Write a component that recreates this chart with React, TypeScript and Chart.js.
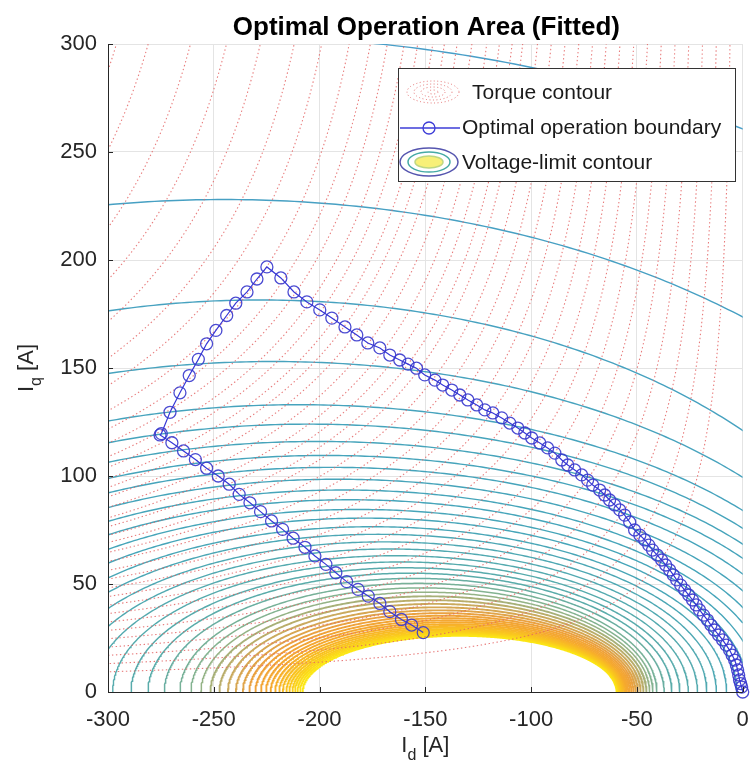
import React, { useEffect, useRef } from "react";
import { Chart, registerables } from "chart.js";

Chart.register(...registerables);

// ---------- text ----------
const TITLE = "Optimal Operation Area (Fitted)";
const LEGEND_LABELS = ["Torque contour", "Optimal operation boundary", "Voltage-limit contour"];

// ---------- axes ----------
const X_TICKS = [-300, -250, -200, -150, -100, -50, 0];
const Y_TICKS = [0, 50, 100, 150, 200, 250, 300];

// ---------- optimal operation boundary (Id, Iq) ----------
const boundaryId = [
  -151.0, -156.5, -161.3, -166.8, -171.5, -177.0, -181.8, -187.2, -192.3, -197.0,
  -202.2, -206.9, -212.5, -217.5, -222.7, -227.9, -232.9, -238.0, -242.7, -247.9,
  -253.4, -258.7, -264.3, -269.8, -275.4, -274.8,
  -270.7, -266.0, -261.6, -257.3, -253.4, -249.0, -243.9, -239.6, -234.3, -229.6, -224.9,
  -218.3, -212.1, -206.0, -199.9, -194.2, -188.0, -182.4, -177.2, -171.5, -166.8,
  -162.1, -158.2, -154.2, -150.3, -145.5, -141.8, -137.5, -133.7, -129.9, -125.7,
  -121.9, -118.1, -113.9, -110.1, -106.3, -103.0, -99.7, -95.9, -92.2, -88.8,
  -85.5, -82.7, -79.4, -76.1, -73.3, -70.9, -67.6, -65.2, -62.9, -60.5,
  -58.1, -55.8, -53.4, -51.1, -48.6, -46.3, -44.4, -42.6, -40.4, -38.3,
  -36.4, -34.5, -32.8, -31.2, -29.3, -27.4, -25.5, -23.7, -22.0, -20.4,
  -18.5, -16.6, -15.0, -13.3, -11.4, -9.5, -7.8, -6.2, -5.0, -3.8,
  -3.0, -2.4, -1.9, -1.5, -1.0, -0.5, 0,
];
const boundaryIq = [
  27.5, 31.0, 33.6, 37.2, 41.0, 44.4, 47.5, 51.1, 55.2, 59.1,
  63.0, 67.0, 71.2, 75.3, 79.2, 83.5, 87.6, 91.5, 96.2, 100.0,
  103.6, 107.6, 111.6, 115.4, 119.0, 119.6,
  129.5, 138.5, 146.5, 154.0, 161.2, 167.4, 174.3, 180.0, 185.2, 191.2, 196.8,
  191.7, 185.2, 180.6, 176.9, 173.1, 169.0, 165.3, 161.6, 159.3, 156.0,
  153.7, 151.8, 149.9, 146.8, 144.4, 142.1, 139.8, 137.5, 135.2, 132.9,
  130.6, 129.2, 126.9, 124.5, 122.2, 119.9, 117.6, 115.3, 113.0, 110.6,
  107.4, 105.1, 102.8, 100.5, 98.1, 95.8, 93.5, 91.2, 88.9, 86.6,
  84.3, 81.9, 78.6, 75.0, 72.6, 70.4, 68.0, 65.7, 63.4, 61.1,
  58.8, 56.5, 54.2, 51.9, 49.5, 47.2, 44.9, 42.6, 40.3, 38.0,
  35.6, 33.3, 31.0, 28.7, 26.4, 24.1, 21.7, 19.4, 17.1, 14.8,
  12.5, 10.2, 7.9, 5.6, 3.9, 2.3, 0,
];

// ---------- voltage-limit contours ----------
// Peak height (Iq at the top) of every contour line, outermost first.
const voltageLevelPeaks = [
  304, 228, 181.5, 153, 133, 124, 116, 109.5, 104, 98.5, 93.5, 89, 84.5, 80.5,
  76.5, 73, 69.5, 66.2, 63.1, 60.2, 57.5, 55, 52.6, 50.3, 48.2, 46.2, 44.3, 42.5,
  40.8, 39.2, 37.8, 36.5, 35.3, 34.2, 33.2, 32.3, 31.4, 30.6, 29.9, 29.2, 28.6,
  28, 27.5, 27, 26.5, 26,
];
// Shape: peak height -> centre Id and half width along Id.
const shapeAnchorPeak = [26, 36, 50, 64, 80, 92, 111, 133, 153, 181.5, 228, 304];
const shapeAnchorCentre = [-133.75, -142, -153, -165, -178, -188, -198, -210, -222, -228, -245, -250];
const shapeAnchorHalfWidth = [74.25, 90, 112, 145, 180, 205, 242, 271, 292, 306, 378, 486];
// Colour of a contour by its peak height
const colourStopPeak = [26, 28.5, 32, 36, 41, 47, 55, 80, 304];
const colourStops = [
  [252, 232, 20], [250, 200, 30], [246, 170, 45], [238, 160, 60], [200, 170, 95],
  [140, 180, 140], [90, 172, 170], [70, 165, 185], [72, 158, 200],
];

// ---------- torque contours ----------
// Id where each torque contour meets the top edge (Iq = 300 A).
const torqueTopCrossingId = [
  -296, -281, -261, -244, -228, -212, -199, -186, -176, -168, -160, -153.6, -146.5,
  -141, -135, -128, -121, -115, -109, -104, -97, -90.5, -84, -77.5, -71, -64.5,
  -58, -51.5, -45, -38.5, -32, -25.5, -19, -12.5, -6,
];
const TORQUE_IQ_KNEE = 200;
const TORQUE_ID_OFFSET = 10;

const FONT = '"Liberation Sans", Arial, Helvetica, sans-serif';

function interp(xs: number[], ys: number[], x: number) {
  if (x <= xs[0]) return ys[0];
  for (let i = 1; i < xs.length; i++) {
    if (x <= xs[i]) {
      const t = (x - xs[i - 1]) / (xs[i] - xs[i - 1]);
      return ys[i - 1] + t * (ys[i] - ys[i - 1]);
    }
  }
  return ys[ys.length - 1];
}

function colourFor(peak: number) {
  const c = [0, 1, 2].map((k) =>
    Math.round(interp(colourStopPeak, colourStops.map((s) => s[k]), peak))
  );
  return `rgb(${c[0]},${c[1]},${c[2]})`;
}

function voltageContour(peak: number) {
  const xc = interp(shapeAnchorPeak, shapeAnchorCentre, peak);
  const a = interp(shapeAnchorPeak, shapeAnchorHalfWidth, peak);
  const pts: { x: number; y: number }[] = [];
  for (let i = 0; i <= 360; i++) {
    const t = (Math.PI * i) / 360;
    pts.push({ x: xc - a * Math.cos(t), y: peak * Math.sin(t) });
  }
  return pts;
}

// torque ~ (offset - Id) * F(Iq) with a saturating F; one contour per top crossing
function torqueContour(topId: number) {
  const S = TORQUE_IQ_KNEE;
  const U0 = TORQUE_ID_OFFSET;
  const F = (q: number) => S * Math.tanh(q / S);
  const Finv = (f: number) => S * Math.atanh(f / S);
  const ut = -topId;
  const level = (ut + U0) * F(300);
  const uMax = 306;
  const pts: { x: number; y: number }[] = [];
  for (let i = 0; i <= 240; i++) {
    const u = ut + ((uMax - ut) * i) / 240;
    const f = level / (u + U0);
    if (f >= S) continue;
    pts.push({ x: -u, y: Finv(f) });
  }
  const qLeft = Finv(level / (uMax + U0));
  for (let i = 0; i <= 240; i++) {
    const q = qLeft + ((306 - qLeft) * i) / 240;
    const u = level / F(q) - U0;
    if (u < -2) continue;
    pts.push({ x: -u, y: q });
  }
  pts.sort((p, q) => p.x - q.x);
  return pts;
}

const overlayPlugin = {
  id: "overlay",
  afterDatasetsDraw(chart: any) {
    const { ctx, chartArea: ca, scales } = chart;
    ctx.save();
    ctx.strokeStyle = "#262626";
    ctx.lineWidth = 1;
    ctx.beginPath();
    ctx.moveTo(ca.left + 0.5, ca.top);
    ctx.lineTo(ca.left + 0.5, ca.bottom + 0.5);
    ctx.lineTo(ca.right, ca.bottom + 0.5);
    ctx.stroke();
    for (const v of X_TICKS) {
      const px = Math.round(scales.x.getPixelForValue(v)) + 0.5;
      ctx.beginPath();
      ctx.moveTo(px, ca.bottom);
      ctx.lineTo(px, ca.bottom - 5);
      ctx.stroke();
    }
    for (const v of Y_TICKS) {
      const py = Math.round(scales.y.getPixelForValue(v)) + 0.5;
      ctx.beginPath();
      ctx.moveTo(ca.left, py);
      ctx.lineTo(ca.left + 5, py);
      ctx.stroke();
    }
    ctx.restore();
  },
  afterDraw(chart: any) {
    const { ctx, chartArea: ca } = chart;
    const cx = (ca.left + ca.right) / 2;
    ctx.save();
    // title
    ctx.fillStyle = "#000";
    ctx.font = `bold 26px ${FONT}`;
    ctx.textAlign = "center";
    ctx.textBaseline = "alphabetic";
    ctx.fillText(TITLE, cx + 1, 35);

    // axis titles with subscripts
    const drawSubTitle = (main: string, sub: string, rest: string) => {
      ctx.font = `22px ${FONT}`;
      const w1 = ctx.measureText(main).width;
      const w3 = ctx.measureText(rest).width;
      ctx.font = `16px ${FONT}`;
      const w2 = ctx.measureText(sub).width;
      const total = w1 + w2 + w3;
      let x = -total / 2;
      ctx.textAlign = "left";
      ctx.fillStyle = "#262626";
      ctx.font = `22px ${FONT}`;
      ctx.fillText(main, x, 0);
      x += w1;
      ctx.font = `16px ${FONT}`;
      ctx.fillText(sub, x, 8);
      x += w2;
      ctx.font = `22px ${FONT}`;
      ctx.fillText(rest, x, 0);
    };
    ctx.save();
    ctx.translate(cx, 752);
    drawSubTitle("I", "d", " [A]");
    ctx.restore();
    ctx.save();
    ctx.translate(33, (ca.top + ca.bottom) / 2);
    ctx.rotate(-Math.PI / 2);
    drawSubTitle("I", "q", " [A]");
    ctx.restore();

    // legend
    const bx = 398.5, by = 68.5, bw = 337, bh = 113;
    ctx.fillStyle = "#fff";
    ctx.fillRect(bx, by, bw, bh);
    ctx.strokeStyle = "#333";
    ctx.lineWidth = 1;
    ctx.strokeRect(bx, by, bw, bh);

    // torque icon: dotted concentric ellipses
    ctx.save();
    ctx.strokeStyle = "rgba(225,95,95,0.85)";
    ctx.setLineDash([1, 2.5]);
    const tr = [[26, 11], [19, 8], [12, 5], [5, 2]];
    for (const [rx, ry] of tr) {
      ctx.beginPath();
      ctx.ellipse(433, 92, rx, ry, 0, 0, Math.PI * 2);
      ctx.stroke();
    }
    ctx.restore();

    // boundary icon
    ctx.strokeStyle = "rgb(60,60,215)";
    ctx.lineWidth = 1.3;
    ctx.beginPath();
    ctx.moveTo(400, 128);
    ctx.lineTo(460, 128);
    ctx.stroke();
    ctx.beginPath();
    ctx.arc(429, 128, 6, 0, Math.PI * 2);
    ctx.stroke();

    // voltage icon
    ctx.lineWidth = 1.5;
    ctx.fillStyle = "rgb(248,240,120)";
    ctx.strokeStyle = "rgb(190,215,130)";
    ctx.beginPath();
    ctx.ellipse(429, 162, 14, 6, 0, 0, Math.PI * 2);
    ctx.fill();
    ctx.stroke();
    ctx.strokeStyle = "rgb(70,170,165)";
    ctx.beginPath();
    ctx.ellipse(429, 162, 21, 10, 0, 0, Math.PI * 2);
    ctx.stroke();
    ctx.strokeStyle = "rgb(85,85,175)";
    ctx.beginPath();
    ctx.ellipse(429, 162, 29, 14, 0, 0, Math.PI * 2);
    ctx.stroke();

    ctx.fillStyle = "#1a1a1a";
    ctx.font = `21px ${FONT}`;
    ctx.textAlign = "left";
    ctx.textBaseline = "middle";
    ctx.fillText(LEGEND_LABELS[0], 472, 93);
    ctx.fillText(LEGEND_LABELS[1], 462, 128);
    ctx.fillText(LEGEND_LABELS[2], 462, 163);
    ctx.restore();
  },
};

export default function App() {
  const ref = useRef<HTMLCanvasElement | null>(null);
  useEffect(() => {
    const canvas = ref.current;
    if (!canvas) return;
    const datasets: any[] = [];
    datasets.push({
      label: LEGEND_LABELS[1],
      data: boundaryId.map((x, i) => ({ x, y: boundaryIq[i] })),
      borderColor: "rgb(55,55,215)",
      borderWidth: 1.2,
      pointRadius: 6,
      pointBorderWidth: 1.3,
      pointBorderColor: "rgba(55,55,205,0.9)",
      pointBackgroundColor: "rgba(0,0,0,0)",
      showLine: true,
      clip: 10,
      order: 0,
    });
    torqueTopCrossingId.forEach((t) => {
      datasets.push({
        label: LEGEND_LABELS[0],
        data: torqueContour(t),
        borderColor: "rgba(228,100,100,0.85)",
        borderWidth: 1.1,
        borderDash: [1.4, 2.6],
        pointRadius: 0,
        showLine: true,
        order: 1,
      });
    });
    voltageLevelPeaks.forEach((p) => {
      datasets.push({
        label: LEGEND_LABELS[2],
        data: voltageContour(p),
        borderColor: colourFor(p),
        borderWidth: p < 45 ? 1.9 : p < 60 ? 1.5 : 1.4,
        pointRadius: 0,
        showLine: true,
        order: 2,
      });
    });

    const tickFont = { family: FONT, size: 22 };
    const chart = new Chart(canvas, {
      type: "line",
      data: { datasets },
      options: {
        responsive: false,
        animation: false,
        devicePixelRatio: 1,
        events: [],
        layout: { padding: { left: 0, right: 7, top: 44, bottom: 0 } },
        plugins: {
          legend: { display: false },
          title: { display: false },
          tooltip: { enabled: false },
        },
        elements: { line: { tension: 0 } },
        scales: {
          x: {
            type: "linear",
            min: -300,
            max: 0,
            afterBuildTicks: (axis: any) => {
              axis.ticks = X_TICKS.map((value) => ({ value }));
            },
            afterFit: (axis: any) => {
              axis.height = 84;
              axis.paddingLeft = 0;
              axis.paddingRight = 0;
            },
            ticks: { font: tickFont, color: "#262626", padding: 15, maxRotation: 0, autoSkip: false },
            grid: { color: "#e4e4e4", drawTicks: false },
            border: { color: "#262626" },
          },
          y: {
            type: "linear",
            min: 0,
            max: 300,
            afterBuildTicks: (axis: any) => {
              axis.ticks = Y_TICKS.map((value) => ({ value }));
            },
            afterFit: (axis: any) => {
              axis.width = 108;
              axis.paddingTop = 0;
              axis.paddingBottom = 0;
            },
            ticks: { font: tickFont, color: "#262626", padding: 11, autoSkip: false },
            grid: { color: "#e4e4e4", drawTicks: false },
            border: { color: "#262626" },
          },
        },
      } as any,
      plugins: [overlayPlugin as any],
    });
    return () => chart.destroy();
  }, []);

  return (
    <div style={{ position: "fixed", left: 0, top: 0, width: 750, height: 776, background: "#fff" }}>
      <canvas ref={ref} width={750} height={776} style={{ display: "block", width: 750, height: 776 }} />
    </div>
  );
}
